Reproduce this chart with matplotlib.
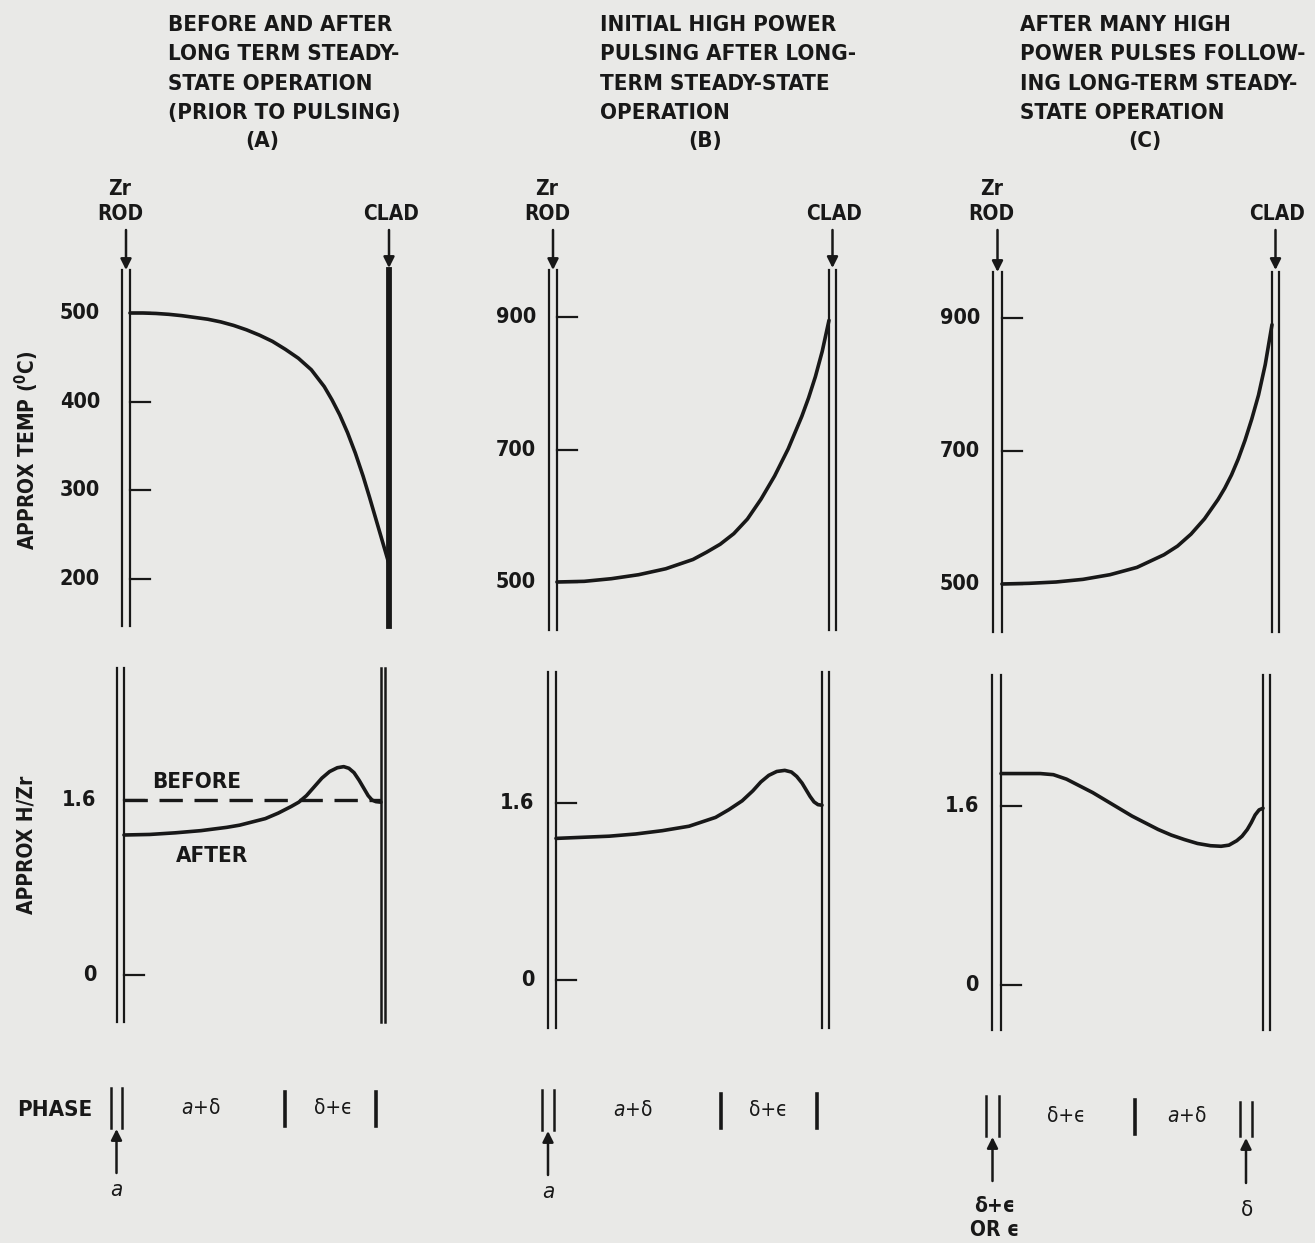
import matplotlib.pyplot as plt

W, H = 1315, 1243
BG = '#e9e9e7'
INK = '#181818'
plt.rcParams['font.family'] = ['DejaVu Sans']
plt.rcParams['font.stretch'] = 'condensed'
plt.rcParams['mathtext.fontset'] = 'dejavusans'

# profiles across the fuel: position 0 = Zr rod surface, 1 = clad
temp_a_pos = [0.00, 0.05, 0.10, 0.15, 0.20, 0.25, 0.30, 0.35, 0.40, 0.45, 0.50, 0.55, 0.60, 0.65,
              0.70, 0.75, 0.78, 0.81, 0.84, 0.87, 0.90, 0.925, 0.95, 0.975, 1.00]
temp_a_val = [500, 500, 499.5, 498.5, 497, 495, 493, 490, 486, 481, 475, 468, 459, 449,
              436, 417, 402, 385, 365, 342, 316, 292, 267, 242, 217]

temp_b_pos = [0.00, 0.10, 0.20, 0.30, 0.40, 0.50, 0.55, 0.60, 0.65, 0.70, 0.75, 0.80, 0.85,
              0.90, 0.925, 0.95, 0.975, 1.00]
temp_b_val = [500, 501, 505, 511, 520, 534, 545, 557, 573, 595, 625, 660, 701,
              750, 778, 810, 848, 895]

temp_c_pos = [0.00, 0.10, 0.20, 0.30, 0.40, 0.50, 0.60, 0.65, 0.70, 0.75, 0.80, 0.825, 0.85,
              0.875, 0.90, 0.925, 0.95, 0.975, 1.00]
temp_c_val = [500, 501, 503, 507, 514, 525, 544, 557, 575, 598, 627, 644, 664,
              688, 716, 748, 784, 830, 890]

hzr_a_before = 1.6
hzr_a_pos = [0.00, 0.10, 0.20, 0.30, 0.40, 0.45, 0.50, 0.55, 0.60, 0.65, 0.68, 0.71, 0.74,
             0.77, 0.80, 0.83, 0.855, 0.875, 0.895, 0.915, 0.935, 0.95, 0.965, 0.98, 1.00]
hzr_a_val = [1.28, 1.285, 1.30, 1.32, 1.35, 1.37, 1.40, 1.43, 1.48, 1.54, 1.58, 1.64, 1.72,
             1.80, 1.86, 1.895, 1.905, 1.89, 1.85, 1.78, 1.70, 1.64, 1.60, 1.585, 1.58]

hzr_b_pos = [0.00, 0.10, 0.20, 0.30, 0.40, 0.50, 0.55, 0.60, 0.65, 0.70, 0.74, 0.77, 0.80,
             0.83, 0.86, 0.885, 0.905, 0.925, 0.94, 0.955, 0.97, 0.985, 1.00]
hzr_b_val = [1.28, 1.29, 1.30, 1.32, 1.35, 1.39, 1.43, 1.47, 1.54, 1.62, 1.71, 1.79, 1.85,
             1.885, 1.895, 1.88, 1.84, 1.78, 1.72, 1.66, 1.61, 1.585, 1.58]

hzr_c_pos = [0.00, 0.10, 0.15, 0.20, 0.25, 0.30, 0.35, 0.40, 0.45, 0.50, 0.55, 0.60, 0.65,
             0.70, 0.75, 0.80, 0.84, 0.87, 0.90, 0.92, 0.94, 0.955, 0.97, 0.985, 1.00]
hzr_c_val = [1.89, 1.89, 1.89, 1.88, 1.84, 1.78, 1.72, 1.65, 1.58, 1.51, 1.45, 1.39, 1.34,
             1.30, 1.265, 1.245, 1.24, 1.25, 1.29, 1.33, 1.39, 1.45, 1.52, 1.565, 1.58]

temp_ticks_a = [200, 300, 400, 500]
temp_ticks_bc = [500, 700, 900]
hzr_ticks = [0, 1.6]

titles = [
    ["BEFORE AND AFTER", "LONG TERM STEADY-", "STATE OPERATION", "(PRIOR TO PULSING)"],
    ["INITIAL HIGH POWER", "PULSING AFTER LONG-", "TERM STEADY-STATE", "OPERATION"],
    ["AFTER MANY HIGH", "POWER PULSES FOLLOW-", "ING LONG-TERM STEADY-", "STATE OPERATION"],
]
panel_tags = ["(A)", "(B)", "(C)"]

phase_labels = [["$a$+δ", "δ+ϵ"], ["$a$+δ", "δ+ϵ"], ["δ+ϵ", "$a$+δ"]]
phase_label_pos = [[0.30, 0.815], [0.29, 0.80], [0.25, 0.71]]
phase_bounds = [[0.625, 0.98], [0.62, 0.98], [0.51]]
phase_inner = ["$a$", "$a$", "δ+ϵ\nOR ϵ"]

fig = plt.figure(figsize=(W / 100, H / 100), dpi=100, facecolor=BG)


def make_ax(p):
    x_in, x_cl = p['rod'][1], p['clad'][0]
    (v1, y1), (v2, y2) = p['cal']
    k = (v2 - v1) / (y2 - y1)
    ylo = v1 + (p['y'][1] - y1) * k
    yhi = v1 + (p['y'][0] - y1) * k
    ax = fig.add_axes([x_in / W, 1 - p['y'][1] / H, (x_cl - x_in) / W, (p['y'][1] - p['y'][0]) / H])
    ax.set_xlim(0, 1)
    ax.set_ylim(ylo, yhi)
    ax.axis('off')
    ax.patch.set_alpha(0)
    span = x_cl - x_in
    # Zr rod and clad walls
    ax.axvline((p['rod'][0] - x_in) / span, color=INK, lw=1.6, clip_on=False)
    ax.axvline(0, color=INK, lw=1.6, clip_on=False)
    for xc in p['clad']:
        ax.axvline((xc - x_in) / span, color=INK, lw=p['clad_lw'], clip_on=False)
    for t in p['ticks']:
        ax.plot([0, 20 / span], [t, t], color=INK, lw=1.6, clip_on=False)
        ax.text(-p['gap'] / span, t, f"{t:g}", ha='right', va='center', fontsize=15.5,
                fontweight='bold', color=INK)
    return ax


layout = [
    dict(top=dict(rod=(122, 130), clad=(389,), clad_lw=4.2, y=(270, 626), cal=((500, 313), (200, 579)),
                  ticks=temp_ticks_a, gap=30),
         bot=dict(rod=(117, 124), clad=(381, 385), clad_lw=1.8, y=(668, 1022), cal=((1.6, 800), (0, 975)),
                  ticks=hzr_ticks, gap=28)),
    dict(top=dict(rod=(549, 557), clad=(829, 836), clad_lw=1.6, y=(270, 630), cal=((900, 317), (500, 582)),
                  ticks=temp_ticks_bc, gap=21),
         bot=dict(rod=(548, 556), clad=(822, 829), clad_lw=1.6, y=(672, 1028), cal=((1.6, 803), (0, 980)),
                  ticks=hzr_ticks, gap=22)),
    dict(top=dict(rod=(993, 1002), clad=(1272, 1279), clad_lw=1.6, y=(272, 632), cal=((900, 318), (500, 584)),
                  ticks=temp_ticks_bc, gap=22),
         bot=dict(rod=(992, 1001), clad=(1263, 1270), clad_lw=1.6, y=(675, 1030), cal=((1.6, 806), (0, 985)),
                  ticks=hzr_ticks, gap=22)),
]

temps = [(temp_a_pos, temp_a_val), (temp_b_pos, temp_b_val), (temp_c_pos, temp_c_val)]
hzrs = [(hzr_a_pos, hzr_a_val), (hzr_b_pos, hzr_b_val), (hzr_c_pos, hzr_c_val)]

for i, lay in enumerate(layout):
    ax_t = make_ax(lay['top'])
    ax_t.plot(*temps[i], color=INK, lw=2.6, clip_on=False, solid_capstyle='round',
              solid_joinstyle='round')
    ax_h = make_ax(lay['bot'])
    ax_h.plot(*hzrs[i], color=INK, lw=2.6, clip_on=False, solid_capstyle='round',
              solid_joinstyle='round')
    if i == 0:
        ax_h.plot([0, 1], [hzr_a_before, hzr_a_before], color=INK, lw=2.4, dashes=(7, 3.5))

# overlay in pixel coordinates for labels and arrows
ov = fig.add_axes([0, 0, 1, 1])
ov.set_xlim(0, W)
ov.set_ylim(H, 0)
ov.axis('off')
ov.patch.set_alpha(0)

title_x = [168, 600, 1020]
tag_x = [262, 705, 1145]
for i in range(3):
    for j, line in enumerate(titles[i]):
        ov.text(title_x[i], 25 + 29.3 * j, line, ha='left', va='center', fontsize=16,
                fontweight='bold', color=INK)
    ov.text(tag_x[i], 141, panel_tags[i], ha='center', va='center', fontsize=16,
            fontweight='bold', color=INK)


def arrow(x, y0, y1):
    ov.annotate('', xy=(x, y1), xytext=(x, y0),
                arrowprops=dict(arrowstyle='-|>', color=INK, lw=1.8, mutation_scale=16,
                                shrinkA=0, shrinkB=0))


for i, lay in enumerate(layout):
    rx = sum(lay['top']['rod']) / 2
    cx = sum(lay['top']['clad']) / len(lay['top']['clad'])
    ov.text(rx - 6, 189, "Zr", ha='center', va='center', fontsize=15, fontweight='bold', color=INK)
    ov.text(rx - 6, 214, "ROD", ha='center', va='center', fontsize=15, fontweight='bold', color=INK)
    ov.text(cx + 2, 214, "CLAD", ha='center', va='center', fontsize=15, fontweight='bold', color=INK)
    arrow(rx, 230, lay['top']['y'][0])
    arrow(cx, 230, lay['top']['y'][0] - 2)

ov.text(27, 450, "APPROX TEMP ($\\mathregular{^0}$C)", rotation=90, ha='center', va='center',
        fontsize=15, fontweight='bold', color=INK)
ov.text(27, 845, "APPROX H/Zr", rotation=90, ha='center', va='center',
        fontsize=15, fontweight='bold', color=INK)
ov.text(197, 782, "BEFORE", ha='center', va='center', fontsize=16, fontweight='bold', color=INK)
ov.text(212, 856, "AFTER", ha='center', va='center', fontsize=16, fontweight='bold', color=INK)

# phase row
ov.text(55, 1110, "PHASE", ha='center', va='center', fontsize=16, fontweight='bold', color=INK)
phase_y = [(1088, 1128), (1090, 1130), (1096, 1136)]
for i, lay in enumerate(layout):
    b = lay['bot']
    x_in, x_cl = b['rod'][1], b['clad'][0]
    span = x_cl - x_in
    y0, y1 = phase_y[i]
    ym = (y0 + y1) / 2
    gap = b['rod'][1] - b['rod'][0] + 4
    xr = x_in - 2
    ov.plot([xr - gap, xr - gap], [y0, y1], color=INK, lw=1.8)
    ov.plot([xr, xr], [y0, y1], color=INK, lw=1.8)
    for f in phase_bounds[i]:
        xb = x_in + f * span
        ov.plot([xb, xb], [y0 + 4, y1 - 2], color=INK, lw=2.6)
    for lab, f in zip(phase_labels[i], phase_label_pos[i]):
        ov.text(x_in + f * span, ym, lab, ha='center', va='center', fontsize=15, color=INK)
    xa = xr - gap / 2
    arrow(xa, y1 + 45, y1 + 1)
    if i < 2:
        ov.text(xa, y1 + 62, phase_inner[i], ha='center', va='center', fontsize=16, color=INK)
    else:
        ov.text(xa + 2, y1 + 82, phase_inner[i], ha='center', va='center', fontsize=15,
                fontweight='bold', color=INK, linespacing=1.3)
        # delta phase at the clad
        xd = x_cl - 17
        ov.plot([xd - 6, xd - 6], [y0 + 6, y1], color=INK, lw=1.8)
        ov.plot([xd + 6, xd + 6], [y0 + 6, y1], color=INK, lw=1.8)
        arrow(xd, y1 + 47, y1 + 2)
        ov.text(xd + 1, 1210, "δ", ha='center', va='center', fontsize=16, color=INK)

fig.savefig('out.png', dpi=100, facecolor=BG)
